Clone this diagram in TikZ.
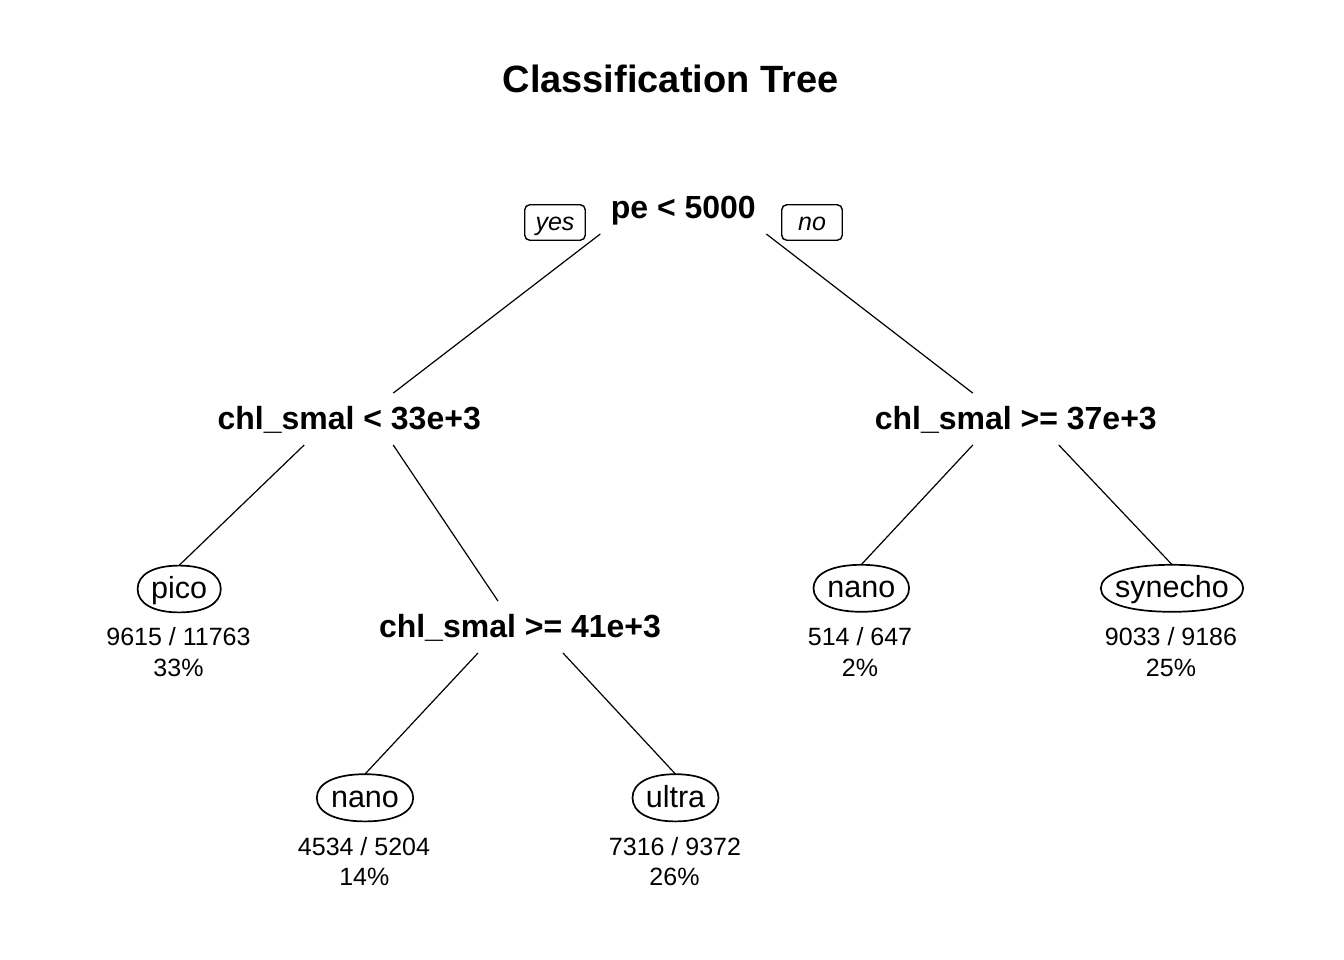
\documentclass[tikz,border=0pt]{standalone}
\usepackage{fontspec}
\setmainfont{Liberation Sans}
\usetikzlibrary{calc}
\tikzset{
  titletext/.style={font=\fontsize{38}{40}\selectfont\bfseries, inner sep=0pt, anchor=base},
  split/.style={font=\fontsize{32}{36}\selectfont\bfseries, inner sep=0pt, text height=36pt, text depth=15.5pt, anchor=base},
  leaf/.style={font=\fontsize{30.5}{34}\selectfont, inner sep=0pt, text height=21pt, text depth=2pt, minimum height=47pt},
  stat/.style={font=\fontsize{25}{30}\selectfont, inner sep=0pt, anchor=base},
  answer/.style={draw, line width=1.4pt, rounded corners=5pt, font=\fontsize{25}{30}\selectfont\itshape, minimum width=60.5pt, minimum height=35.5pt, inner sep=0pt, text height=18pt, text depth=3pt},
  branch/.style={line width=1.2pt},
  ring/.style={line width=1.7pt}
}
\newcommand\leafring[3]{%
  \draw[ring] ($(#1.center)+(#2,0)$)
    .. controls +(0,-0.62*#3) and +(0.62*#2,0) .. ($(#1.center)+(0,-#3)$)
    .. controls +(-0.62*#2,0) and +(0,-0.62*#3) .. ($(#1.center)+(-#2,0)$)
    .. controls +(0,0.62*#3) and +(-0.62*#2,0) .. ($(#1.center)+(0,#3)$)
    .. controls +(0.62*#2,0) and +(0,0.62*#3) .. cycle;}
\begin{document}
\begin{tikzpicture}[x=1pt,y=-1pt]
\useasboundingbox (0,0) rectangle (1344,960);
\fill[white] (0,0) rectangle (1344,960);

\node[titletext] (title) at (670.5,92.7) {Classification Tree};

% split nodes
\node[split] (root) at (683.3,218.3) {pe < 5000};
\node[split] (L) at (349.2,429.3) {chl\_smal < 33e+3};
\node[split] (R) at (1015.8,429.3) {chl\_smal >= 37e+3};
\node[split] (M) at (520,637.3) {chl\_smal >= 41e+3};

% yes / no
\node[answer] (yes) at (555,222.5) {yes};
\node[answer] (no) at (812,222.5) {no};

% leaves
\node[leaf, minimum width=83.2pt] (pico) at (179.2,589) {pico};
\node[leaf, minimum width=96.4pt] (nanoL) at (365,797.8) {nano};
\node[leaf, minimum width=86pt] (ultra) at (675.5,797.8) {ultra};
\node[leaf, minimum width=95.6pt] (nanoR) at (861.3,588.3) {nano};
\node[leaf, minimum width=142.4pt] (syn) at (1172,588.3) {synecho};

\leafring{pico}{41.6}{23.4}
\leafring{nanoL}{48.2}{23.6}
\leafring{ultra}{43}{23.6}
\leafring{nanoR}{47.8}{23.5}
\leafring{syn}{71.2}{23.5}

% leaf statistics
\node[stat] (picoA) at (178.5,645.7) {9615 / 11763};
\node[stat] (picoB) at (178.5,676) {33\%};
\node[stat] (nanoLA) at (364,855) {4534 / 5204};
\node[stat] (nanoLB) at (364.3,885) {14\%};
\node[stat] (ultraA) at (675,855) {7316 / 9372};
\node[stat] (ultraB) at (674.5,885) {26\%};
\node[stat] (nanoRA) at (860,645.5) {514 / 647};
\node[stat] (nanoRB) at (860,676) {2\%};
\node[stat] (synA) at (1171,645.5) {9033 / 9186};
\node[stat] (synB) at (1171,676) {25\%};

% branches
\draw[branch] ([xshift=-83pt]root.south) -- ([xshift=44pt]L.north);
\draw[branch] ([xshift=83pt]root.south) -- ([xshift=-43pt]R.north);
\draw[branch] ([xshift=-45pt]L.south) -- (pico.north);
\draw[branch] ([xshift=44pt]L.south) -- ([xshift=-22pt]M.north);
\draw[branch] ([xshift=-42pt]M.south) -- (nanoL.north);
\draw[branch] ([xshift=43pt]M.south) -- (ultra.north);
\draw[branch] ([xshift=-43pt]R.south) -- (nanoR.north);
\draw[branch] ([xshift=43pt]R.south) -- (syn.north);
\end{tikzpicture}
\end{document}
